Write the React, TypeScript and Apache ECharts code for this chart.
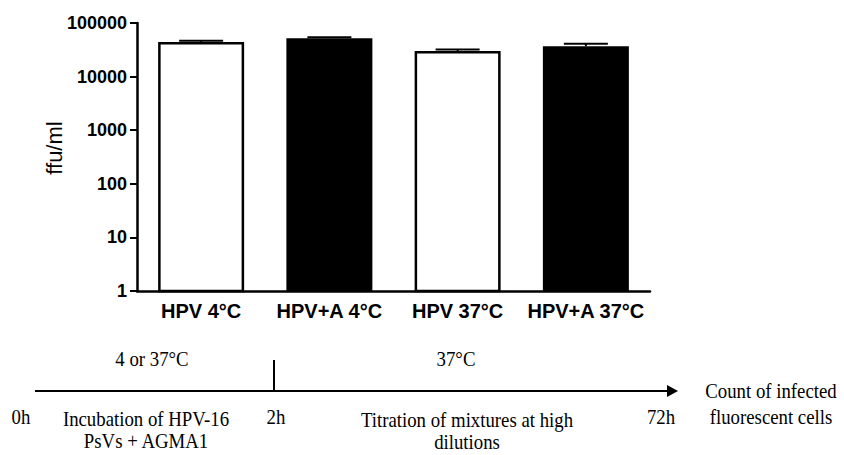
import React, { useEffect, useRef } from "react";
import * as echarts from "echarts";

const categories = ["HPV 4°C", "HPV+A 4°C", "HPV 37°C", "HPV+A 37°C"];
const meanValues = [44000, 52000, 30000, 37000];
const upperValues = [46500, 54500, 32000, 41000];
const barFills = ["#ffffff", "#000000", "#ffffff", "#000000"];
const yTicks = [1, 10, 100, 1000, 10000, 100000];

const timelineTop = ["4 or 37°C", "37°C"];
const timelineTimes = ["0h", "2h", "72h"];
const timelineSteps = [
  ["Incubation of HPV-16", "PsVs + AGMA1"],
  ["Titration of mixtures at high", "dilutions"],
  ["Count of infected", "fluorescent cells"],
];

const SERIF = "'Liberation Serif', 'Times New Roman', serif";
const SANS = "'Liberation Sans', Arial, sans-serif";

export default function App() {
  const ref = useRef<HTMLDivElement>(null);
  useEffect(() => {
    if (!ref.current) return;
    const chart = echarts.init(ref.current, null, { renderer: "svg" });
    const txt = (text: string, x: number, y: number) => ({
      type: "text",
      x,
      y,
      scaleX: 0.94,
      style: {
        text,
        font: `20px ${SERIF}`,
        fill: "#000",
        align: "center",
        verticalAlign: "middle",
      },
    });
    chart.setOption({
      animation: false,
      backgroundColor: "#ffffff",
      grid: { left: 137, right: 194, top: 23, bottom: 164, containLabel: false },
      xAxis: {
        type: "category",
        data: categories,
        z: 5,
        axisLine: { onZero: false, lineStyle: { color: "#000", width: 2.5 } },
        axisTick: { alignWithLabel: true, length: 6, lineStyle: { color: "#000", width: 2 } },
        axisLabel: {
          interval: 0,
          color: "#000",
          fontFamily: SANS,
          fontWeight: "bold",
          fontSize: 20,
          margin: 10,
        },
      },
      yAxis: {
        type: "log",
        logBase: 10,
        min: yTicks[0],
        max: yTicks[yTicks.length - 1],
        name: "ffu/ml",
        nameLocation: "middle",
        nameMoveOverlap: false,
        nameGap: 72,
        nameRotate: 90,
        nameTextStyle: { color: "#000", fontFamily: SANS, fontSize: 22, padding: [0, 0, 0, 18] },
        axisLine: { show: true, lineStyle: { color: "#000", width: 2.5 } },
        axisTick: { show: true, length: 7, lineStyle: { color: "#000", width: 2 } },
        splitLine: { show: false },
        axisLabel: {
          color: "#000",
          fontFamily: SANS,
          fontWeight: "bold",
          fontSize: 18,
          margin: 10,
          formatter: (v: number) => String(Math.round(v)),
        },
      },
      series: [
        {
          type: "custom",
          name: "ffu/ml",
          data: meanValues.map((v, i) => [i, v]),
          encode: { x: 0, y: 1 },
          renderItem: (params: any, api: any) => {
            const i = api.value(0);
            const top = api.coord([i, api.value(1)]);
            const base = api.coord([i, yTicks[0]]);
            const w = 86;
            const fill = barFills[params.dataIndex];
            const isWhite = fill === "#ffffff";
            const inset = isWhite ? 1.25 : 0;
            return {
              type: "rect",
              shape: {
                x: top[0] - w / 2 + inset,
                y: top[1] + inset,
                width: w - 2 * inset,
                height: base[1] - top[1] - inset,
              },
              style: {
                fill,
                stroke: isWhite ? "#000" : null,
                lineWidth: isWhite ? 2.5 : 0,
              },
            };
          },
          z: 2,
        },
        {
          type: "custom",
          data: meanValues.map((v, i) => [i, v, upperValues[i]]),
          encode: { x: 0, y: [1, 2] },
          renderItem: (params: any, api: any) => {
            const base = api.coord([api.value(0), api.value(1)]);
            const top = api.coord([api.value(0), api.value(2)]);
            const half = 22;
            return {
              type: "group",
              children: [
                {
                  type: "line",
                  shape: { x1: base[0], y1: base[1], x2: top[0], y2: top[1] },
                  style: { stroke: "#000", lineWidth: 2 },
                },
                {
                  type: "line",
                  shape: { x1: top[0] - half, y1: top[1], x2: top[0] + half, y2: top[1] },
                  style: { stroke: "#000", lineWidth: 2 },
                },
              ],
            };
          },
          z: 3,
        },
      ],
      graphic: [
        {
          type: "line",
          shape: { x1: 35, y1: 391, x2: 669, y2: 391 },
          style: { stroke: "#000", lineWidth: 2 },
        },
        {
          type: "polygon",
          shape: { points: [[667, 385], [678, 391], [667, 397]] },
          style: { fill: "#000" },
        },
        {
          type: "line",
          shape: { x1: 274, y1: 360, x2: 274, y2: 391 },
          style: { stroke: "#000", lineWidth: 2 },
        },
        txt(timelineTop[0], 152, 359),
        txt(timelineTop[1], 456, 359),
        txt(timelineTimes[0], 21, 417),
        txt(timelineTimes[1], 276, 417),
        txt(timelineTimes[2], 661, 417),
        txt(timelineSteps[0][0], 146, 419),
        txt(timelineSteps[0][1], 146, 441),
        txt(timelineSteps[1][0], 467, 420),
        txt(timelineSteps[1][1], 467, 442),
        txt(timelineSteps[2][0], 771, 391),
        txt(timelineSteps[2][1], 771, 417),
      ],
    });
    return () => chart.dispose();
  }, []);
  return (
    <div
      ref={ref}
      style={{ position: "fixed", left: 0, top: 0, width: 844, height: 455, background: "#fff" }}
    />
  );
}
